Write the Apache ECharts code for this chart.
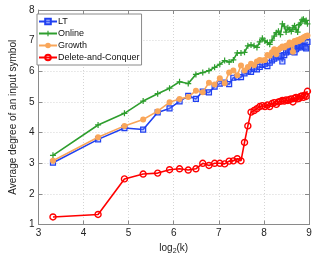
<!DOCTYPE html>
<html><head><meta charset="utf-8">
<script src="https://cdn.jsdelivr.net/npm/echarts@6/dist/echarts.min.js"></script>
<style>html,body{margin:0;padding:0;background:#fff}#c{width:328px;height:260px}</style>
</head><body><div id="c"></div>
<script>
const kValues = [10,20,30,40,50,60,70,80,90,100,110,120,130,140,150,160,170,180,190,200,210,220,230,240,250,260,270,280,290,300,310,320,330,340,350,360,370,380,390,400,410,420,430,440,450,460,470,480,490,500];
const xTickLabels = ['3','4','5','6','7','8','9'];
const ltValues = [3.02,3.78,4.15,4.10,4.66,4.79,5.02,5.20,5.10,5.34,5.31,5.50,5.60,5.63,5.58,5.79,5.81,5.81,5.93,6.00,5.98,6.08,6.06,6.14,6.21,6.24,6.17,6.28,6.36,6.41,6.45,6.49,6.51,6.32,6.53,6.62,6.67,6.70,6.64,6.74,6.62,6.72,6.78,6.83,6.86,6.78,6.83,6.80,6.75,6.96];
const onlineValues = [3.26,4.25,4.63,5.03,5.27,5.45,5.66,5.60,5.90,5.96,6.02,6.13,6.23,6.35,6.30,6.37,6.60,6.60,6.62,6.83,6.86,6.83,6.78,6.96,7.08,6.99,6.94,6.88,7.02,7.15,7.26,7.31,7.20,7.55,7.47,7.28,7.42,7.36,7.30,7.42,7.49,7.36,7.28,7.52,7.57,7.68,7.70,7.63,7.66,7.55];
const growthValues = [3.08,3.85,4.22,4.43,4.70,4.99,5.10,5.16,5.37,5.32,5.63,5.57,5.77,5.61,5.96,6.03,5.87,6.19,6.03,6.14,6.25,6.20,6.32,6.37,6.35,6.37,6.53,6.51,6.62,6.72,6.56,6.70,6.75,6.81,6.78,6.83,6.85,6.94,6.88,6.64,6.99,6.96,7.02,6.99,7.06,7.04,7.10,7.13,7.15,7.17];
const dcValues = [1.25,1.33,2.49,2.65,2.68,2.79,2.82,2.78,2.82,3.00,2.93,3.00,3.00,2.98,3.07,3.08,3.15,3.08,3.68,4.22,4.67,4.72,4.78,4.85,4.88,4.85,4.90,4.85,4.95,4.98,4.92,5.00,5.02,5.05,5.03,5.07,5.05,5.08,5.10,5.00,5.12,5.15,5.10,5.12,5.18,5.20,5.15,5.22,5.18,5.35];
const seriesNames = ['LT','Online','Growth','Delete-and-Conquer'];

const FONT = 'Liberation Sans, Arial, sans-serif';
const pair = arr => kValues.map((k,i)=>[k,arr[i]]);
const plus = 'path://M2,0H3V2H5V3H3V5H2V3H0V2H2Z';
const axisLine = {show:true, lineStyle:{color:'#8a8a8a', width:1}};
const tick = {show:true, inside:true, length:4, lineStyle:{color:'#8a8a8a'}};
const split = {show:true, lineStyle:{color:'#d4d4d4', type:[1,2], width:1}};
const labelStyle = {color:'#222', fontFamily:FONT, fontSize:10};
const xFmt = v => xTickLabels[Math.round(Math.log2(v)) - 3];

const chart = echarts.init(document.getElementById('c'), null, {renderer:'canvas'});
chart.setOption({
  animation:false,
  backgroundColor:'#fff',
  textStyle:{fontFamily:FONT},
  grid:{left:31, right:19, top:10, bottom:30},
  legend:{
    orient:'vertical', left:37, top:14, itemWidth:18, itemHeight:7, itemGap:3,
    padding:[3,2,3,1], backgroundColor:'#fff', borderColor:'#8a8a8a', borderWidth:1,
    textStyle:{fontFamily:FONT, fontSize:9, color:'#111', padding:[0,0,0,-4]},
    data:seriesNames
  },
  xAxis:[
    {type:'log', logBase:2, min:8, max:512, position:'bottom',
     axisLine, axisTick:tick, splitLine:split,
     axisLabel:Object.assign({margin:4, formatter:xFmt}, labelStyle),
     name:'log{s|2}(k)', nameLocation:'middle', nameGap:15,
     nameTextStyle:{fontFamily:FONT, fontSize:10, color:'#222',
       rich:{s:{fontFamily:FONT, fontSize:7, color:'#222', verticalAlign:'bottom', padding:[6,0,0,0]}}}},
    {type:'log', logBase:2, min:8, max:512, position:'top',
     axisLine, axisTick:tick, splitLine:{show:false}, axisLabel:{show:false}}
  ],
  yAxis:[
    {type:'value', min:1, max:8, interval:1, position:'left',
     axisLine, axisTick:tick, splitLine:split,
     axisLabel:Object.assign({margin:4}, labelStyle),
     name:'Average degree of an input symbol', nameLocation:'middle', nameGap:17,
     nameTextStyle:{fontFamily:FONT, fontSize:10, color:'#222'}},
    {type:'value', min:1, max:8, interval:1, position:'right',
     axisLine, axisTick:tick, splitLine:{show:false}, axisLabel:{show:false}}
  ],
  series:[
    {name:seriesNames[0], type:'line', data:pair(ltValues), symbol:'rect', symbolSize:5,
     lineStyle:{color:'#2040f0', width:1.6}, itemStyle:{color:'rgba(120,140,255,0.35)', borderColor:'#2040f0', borderWidth:1.2}, z:3},
    {name:seriesNames[1], type:'line', data:pair(onlineValues), symbol:plus, symbolSize:6,
     lineStyle:{color:'#2e9e2e', width:1.6}, itemStyle:{color:'#2e9e2e'}, z:2},
    {name:seriesNames[2], type:'line', data:pair(growthValues), symbol:'circle', symbolSize:6,
     lineStyle:{color:'#f9a65a', width:1.6}, itemStyle:{color:'#f9a65a', borderWidth:0}, z:4},
    {name:seriesNames[3], type:'line', data:pair(dcValues), symbol:'circle', symbolSize:6,
     lineStyle:{color:'#ff0000', width:1.6}, itemStyle:{color:'rgba(255,255,255,0)', borderColor:'#ff0000', borderWidth:1.4}, z:5}
  ]
});
</script></body></html>
